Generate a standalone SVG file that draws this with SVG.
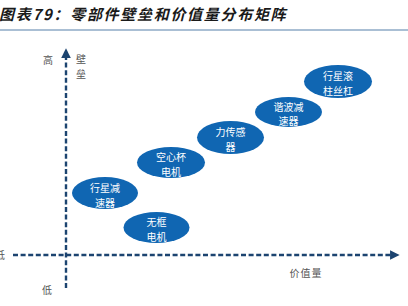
<svg xmlns="http://www.w3.org/2000/svg" width="408" height="306" viewBox="0 0 408 306">
  <style>
    .title { font-family: "Noto Sans CJK SC", "Liberation Sans", sans-serif; font-size: 15px; font-weight: 700; font-style: italic; fill: #1a1a1a; letter-spacing: 1.7px; }
    .axis { fill: none; stroke: #1c4470; stroke-width: 2.4; stroke-dasharray: 5 2.6; }
    .lbl { font-family: "Noto Sans CJK SC", "Liberation Serif", sans-serif; font-size: 10px; fill: #555555; }
    .node ellipse { fill: #1066b2; }
    .node text { font-family: "Noto Sans CJK SC", "Liberation Sans", sans-serif; font-size: 10px; fill: #ffffff; text-anchor: middle; }
  </style>
  <defs>
    <marker id="ah" viewBox="0 0 10 10" refX="1" refY="5" markerWidth="4" markerHeight="4" markerUnits="strokeWidth" orient="auto">
      <path d="M0,0 L10,5 L0,10 Z" fill="#1c4470"/>
    </marker>
  </defs>
  <rect width="408" height="306" fill="#ffffff"/>

  <text class="title" x="-1" y="20">图表79：零部件壁垒和价值量分布矩阵</text>
  <line x1="0" y1="30" x2="408" y2="30" stroke="#8eaac6" stroke-width="1.5"/>

  <g id="connectors">
    <line class="axis" x1="66" y1="288" x2="66" y2="57" marker-end="url(#ah)"/>
    <line class="axis" x1="13" y1="255" x2="391" y2="255" marker-end="url(#ah)"/>
  </g>

  <g id="axis-labels">
    <text class="lbl" x="48" y="64" text-anchor="middle">高</text>
    <text class="lbl" x="81" y="63" text-anchor="middle">壁</text>
    <text class="lbl" x="81" y="78" text-anchor="middle">垒</text>
    <text class="lbl" x="0" y="259" text-anchor="middle">低</text>
    <text class="lbl" x="47" y="294" text-anchor="middle">低</text>
    <text class="lbl" x="306" y="277" text-anchor="middle" letter-spacing="1">价值量</text>
  </g>

  <g id="node-planetary-reducer" class="node">
    <ellipse cx="105" cy="193" rx="33" ry="16"/>
    <text x="105" y="191.5">行星减</text>
    <text x="105" y="206.5">速器</text>
  </g>
  <g id="node-frameless-motor" class="node">
    <ellipse cx="156.5" cy="227.5" rx="33" ry="15.5"/>
    <text x="156.5" y="226">无框</text>
    <text x="156.5" y="241">电机</text>
  </g>
  <g id="node-coreless-motor" class="node">
    <ellipse cx="171" cy="162.5" rx="34" ry="15.5"/>
    <text x="171" y="161">空心杯</text>
    <text x="171" y="175.5">电机</text>
  </g>
  <g id="node-force-sensor" class="node">
    <ellipse cx="230.5" cy="137.5" rx="33.5" ry="16.5"/>
    <text x="230.5" y="136">力传感</text>
    <text x="230.5" y="151">器</text>
  </g>
  <g id="node-harmonic-reducer" class="node">
    <ellipse cx="288.5" cy="112" rx="33.5" ry="15"/>
    <text x="288.5" y="110.5">谐波减</text>
    <text x="288.5" y="125">速器</text>
  </g>
  <g id="node-roller-screw" class="node">
    <ellipse cx="338" cy="81.5" rx="34" ry="16.5"/>
    <text x="338" y="80">行星滚</text>
    <text x="338" y="95">柱丝杠</text>
  </g>
</svg>
